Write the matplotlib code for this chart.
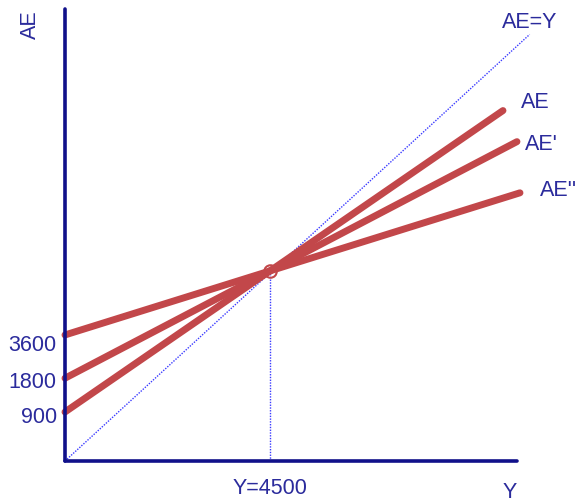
import matplotlib
matplotlib.use("Agg")
import matplotlib.pyplot as plt

# Data
eq_y = 4500
ae_labels = ["AE", "AE'", "AE''"]
ae_intercepts = [1160, 1960, 2984]          # intercepts as drawn on the axis
ae_end_x = [9614, 9921, 9987]
tick_positions = [1089, 1918, 2794]
tick_labels = ["900", "1800", "3600"]
diag_end = 10200
xmax, ymax = 9922, 10700

navy = "#10108a"
txt = "#2b2b9c"
red = "#c2474a"
blue = "#3a3aff"
fs = 15.5

plt.rcParams['font.family'] = ['Liberation Sans', 'DejaVu Sans']
fig = plt.figure(figsize=(5.77, 5.01), dpi=100)
ax = fig.add_axes([65/577, 40/501, 452/577, 452/501])
ax.set_xlim(0, xmax)
ax.set_ylim(0, ymax)

for s in ["top", "right"]:
    ax.spines[s].set_visible(False)
for s in ["left", "bottom"]:
    ax.spines[s].set_color(navy)
    ax.spines[s].set_linewidth(2.6)
    ax.spines[s].set_capstyle("round")

# 45-degree line
ax.plot([0, diag_end], [0, diag_end * 0.99], ls=(0, (1, 1.0)), color=blue, lw=1.0, clip_on=False)
# vertical dotted at equilibrium
ax.plot([eq_y, eq_y], [0, eq_y], ls=(0, (1, 1.0)), color=blue, lw=1.0)

# AE lines
for b, xe in zip(ae_intercepts, ae_end_x):
    slope = (eq_y - b) / eq_y
    ax.plot([0, xe], [b, b + slope * xe], color=red, lw=5, solid_capstyle="round", clip_on=False)

ax.plot([eq_y], [eq_y], marker="o", ms=9, mfc="none", mec=red, mew=1.5)

ax.set_yticks(tick_positions, tick_labels)
ax.set_xticks([eq_y], ["Y=4500"])
ax.tick_params(length=0, labelsize=fs, labelcolor=txt, pad=6)
ax.tick_params(axis="x", pad=12)

fig.text(30/577, 1 - 25/501, "AE", rotation=90, ha="center", va="center", fontsize=fs, color=txt)
fig.text(510/577, 1 - 492/501, "Y", ha="center", va="center", fontsize=fs, color=txt)
fig.text(530/577, 1 - 22/501, "AE=Y", ha="center", va="center", fontsize=fs, color=txt)
fig.text(535/577, 1 - 102/501, ae_labels[0], ha="center", va="center", fontsize=fs, color=txt)
fig.text(541/577, 1 - 145/501, ae_labels[1], ha="center", va="center", fontsize=fs, color=txt)
fig.text(559/577, 1 - 190/501, ae_labels[2], ha="center", va="center", fontsize=fs, color=txt)

fig.savefig("out.png", dpi=100)
